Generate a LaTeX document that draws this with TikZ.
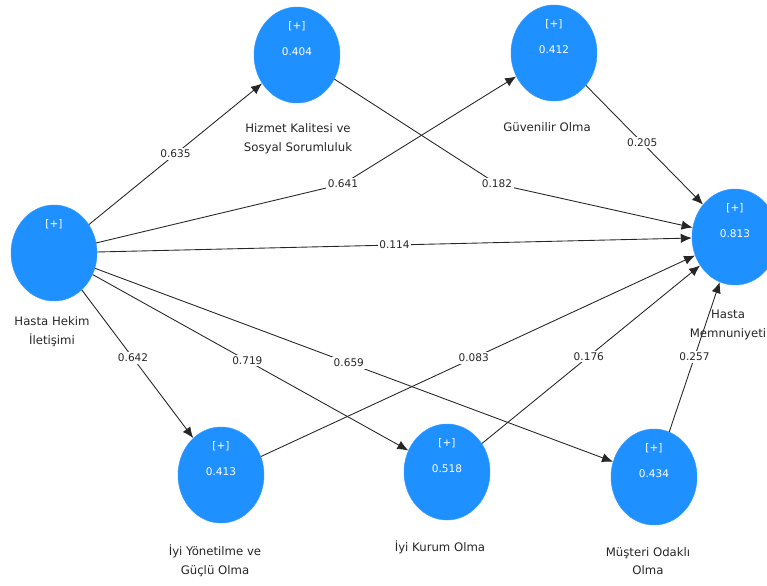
\documentclass[tikz,border=0pt]{standalone}
\usepackage{fontspec}
\setmainfont{DejaVu Sans}
\usetikzlibrary{positioning,arrows.meta,shapes.geometric}
\definecolor{lvblue}{RGB}{30,144,255}

\begin{document}
\begin{tikzpicture}[x=0.03cm, y=-0.03cm,
        construct/.style={ellipse, fill=lvblue, draw=lvblue!90, minimum width=2.58cm, minimum height=2.88cm, inner sep=0pt},
        intext/.style={text=white, font=\fontsize{9}{11}\selectfont},
        cname/.style={text=black!85, font=\fontsize{10}{16}\selectfont, align=center},
        arrow/.style={-{Latex[length=3.3mm, width=2.8mm]}, black!85, line width=0.75pt},
        coef/.style={fill=white, inner sep=1.5pt, text=black!85, font=\fontsize{9}{11}\selectfont}
    ]
    \useasboundingbox (0,0) rectangle (767,585);

    % Constructs
    \node[construct] (hhi) at (54,253) {};
    \node[construct] (hks) at (297,55) {};
    \node[construct] (guv) at (554,53) {};
    \node[construct] (hm) at (735,237) {};
    \node[construct] (iyg) at (221,475) {};
    \node[construct] (iko) at (447,472) {};
    \node[construct] (mus) at (654,477) {};

    % [+] and R-square values
    \foreach \n in {hhi,hks,guv,hm,iyg,iko,mus} {
        \node[intext] (p\n) at ([yshift=0.87cm]\n.center) {[+]};
    }
    \node[intext] (vhks) at ([yshift=0.1cm]hks.center) {0.404};
    \node[intext] (vguv) at ([yshift=0.1cm]guv.center) {0.412};
    \node[intext] (vhm) at ([yshift=0.1cm]hm.center) {0.813};
    \node[intext] (viyg) at ([yshift=0.1cm]iyg.center) {0.413};
    \node[intext] (viko) at ([yshift=0.1cm]iko.center) {0.518};
    \node[intext] (vmus) at ([yshift=0.1cm]mus.center) {0.434};

    % Construct names
    \node[cname] (nhhi) at (52,332) {Hasta Hekim\\İletişimi};
    \node[cname] (nhks) at (298,139) {Hizmet Kalitesi ve\\Sosyal Sorumluluk};
    \node[cname] (nguv) at (547,127) {Güvenilir Olma};
    \node[cname] (nhm) at (728,325) {Hasta\\Memnuniyeti};
    \node[cname] (niyg) at (215,561) {İyi Yönetilme ve\\Güçlü Olma};
    \node[cname] (niko) at (440,547) {İyi Kurum Olma};
    \node[cname] (nmus) at (648,561) {Müşteri Odaklı\\Olma};

    % Paths
    \foreach \a/\b/\w/\p in {hhi/hks/0.635/0.5, hhi/hm/0.114/0.5, hhi/iyg/0.642/0.46,
                             hhi/iko/0.719/0.49, hhi/mus/0.659/0.49, guv/hm/0.205/0.48,
                             iyg/hm/0.083/0.49, iko/hm/0.176/0.49, mus/hm/0.257/0.5} {
        \draw[arrow] (\a) -- node[coef, pos=\p] {\w} (\b);
    }
    \coordinate (bguv) at (343,184);
    \coordinate (bhm) at (497,184);
    \draw[arrow] (hhi) -- (bguv) -- (guv);
    \node[coef] (cguv) at (bguv) {0.641};
    \draw[arrow] (hks) -- (bhm) -- (hm);
    \node[coef] (chm) at (bhm) {0.182};
\end{tikzpicture}
\end{document}
